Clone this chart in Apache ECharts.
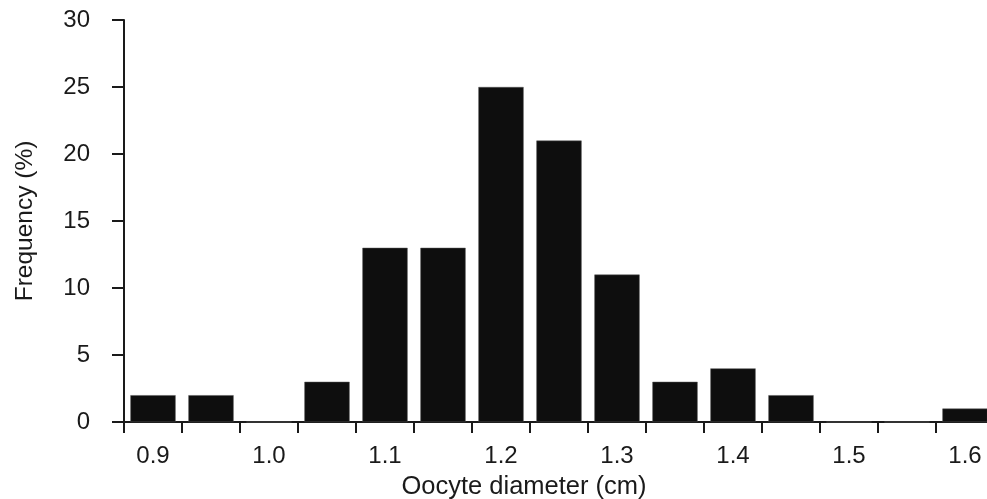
<!DOCTYPE html>
<html>
<head>
<meta charset="utf-8">
<script src="https://cdn.jsdelivr.net/npm/echarts@6/dist/echarts.min.js"></script>
<style>
html,body{margin:0;padding:0;background:#fff;}
#main{width:987px;height:499px;}
</style>
</head>
<body>
<div id="main"></div>
<script>
const categories = ['0.9','0.95','1.0','1.05','1.1','1.15','1.2','1.25','1.3','1.35','1.4','1.45','1.5','1.55','1.6'];
const frequency = [2, 2, 0, 3, 13, 13, 25, 21, 11, 3, 4, 2, 0, 0, 1];
const yTicks = {min: 0, max: 30, interval: 5};
const xTitle = 'Oocyte diameter (cm)';
const yTitle = 'Frequency (%)';

const font = 'Liberation Sans, Arial, sans-serif';
const chart = echarts.init(document.getElementById('main'), null, {renderer: 'canvas'});
chart.setOption({
  animation: false,
  backgroundColor: '#ffffff',
  grid: {left: 124, right: -7, top: 20, bottom: 77, containLabel: false, outerBoundsMode: 'none'},
  xAxis: {
    type: 'category',
    data: categories,
    boundaryGap: true,
    axisLine: {show: true, lineStyle: {color: '#1a1a1a', width: 2}},
    axisTick: {show: true, interval: 0, length: 11, lineStyle: {color: '#1a1a1a', width: 2}},
    axisLabel: {interval: 1, margin: 22, color: '#1a1a1a', fontSize: 24, fontFamily: font},
    splitLine: {show: false},
    name: xTitle,
    nameLocation: 'middle',
    nameGap: 52,
    nameTextStyle: {color: '#1a1a1a', fontSize: 25.5, fontFamily: font, padding: [0, 70, 0, 0]}
  },
  yAxis: {
    type: 'value',
    min: yTicks.min, max: yTicks.max, interval: yTicks.interval,
    axisLine: {show: true, lineStyle: {color: '#1a1a1a', width: 2}},
    axisTick: {show: true, length: 12, lineStyle: {color: '#1a1a1a', width: 2}},
    axisLabel: {margin: 34, color: '#1a1a1a', fontSize: 24, fontFamily: font},
    splitLine: {show: false},
    name: yTitle,
    nameLocation: 'middle',
    nameGap: 86,
    nameTextStyle: {color: '#1a1a1a', fontSize: 24.5, fontFamily: font}
  },
  series: [{
    type: 'bar',
    data: frequency,
    barCategoryGap: '22%',
    itemStyle: {color: '#0e0e0e', borderColor: '#555', borderWidth: 0.5}
  }]
});
</script>
</body>
</html>
